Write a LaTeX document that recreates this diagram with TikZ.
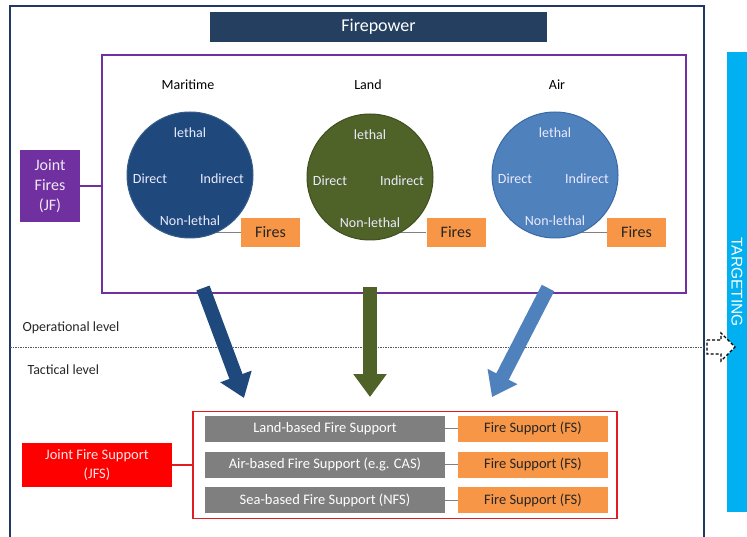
\documentclass[tikz,border=0pt]{standalone}
\usepackage{fontspec}
\setmainfont{Carlito}
\newfontfamily\targfont{Liberation Sans}
\usetikzlibrary{arrows.meta,backgrounds,calc}
\definecolor{fpnavy}{HTML}{243F60}
\definecolor{outerblue}{HTML}{1F3864}
\definecolor{jfpurple}{HTML}{7030A0}
\definecolor{marblue}{HTML}{1F497D}
\definecolor{marline}{HTML}{385D8A}
\definecolor{landgreen}{HTML}{4F6228}
\definecolor{landline}{HTML}{3F4F20}
\definecolor{airblue}{HTML}{4F81BD}
\definecolor{airline}{HTML}{3A6AA5}
\definecolor{firesorange}{HTML}{F79646}
\definecolor{targblue}{HTML}{00B0F0}
\definecolor{boxgray}{HTML}{7F7F7F}
\definecolor{jfsred}{HTML}{FF0000}
\definecolor{redline}{HTML}{E31B23}
\definecolor{linkgray}{HTML}{808080}
\tikzset{
  fsz/.style={font=\fontsize{#1}{#1}\selectfont},
  disc/.style={circle, minimum size=126pt, inner sep=0pt, line width=1pt},
  inlabel/.style={text=white!92!blue, fsz=14},
  domlabel/.style={fsz=14, text=black},
  firesbox/.style={fill=firesorange, minimum width=59pt, minimum height=29pt, inner sep=0pt, fsz=16, text=black!85},
  link/.style={draw=linkgray, line width=1pt},
  blockarrow/.style={line width=14pt, -{Triangle[length=23pt,width=32pt]}},
  graybox/.style={fill=boxgray, minimum width=240pt, minimum height=26pt, inner sep=0pt, text=white, fsz=14.5},
  fsbox/.style={fill=firesorange, minimum width=150pt, minimum height=26pt, inner sep=0pt, text=black!85, fsz=14.5},
  levellabel/.style={anchor=west, fsz=14, text=black!85},
}
\begin{document}
\begin{tikzpicture}[x=1pt,y=-1pt]
\useasboundingbox (0,0) rectangle (747,537);
% outer frame
\draw[outerblue, line width=1.5pt] (10,537) -- (10,6) -- (704,6) -- (704,537);
% firepower bar
\node[fill=fpnavy, minimum width=337pt, minimum height=30pt, inner sep=0pt, text=white, fsz=18] (fp) at (378.5,27) {Firepower};
% joint fires frame
\node[draw=jfpurple, line width=1.5pt, minimum width=584pt, minimum height=238pt, inner sep=0pt] (jfbox) at (394,174) {};
\node[fill=jfpurple, minimum width=60pt, minimum height=72pt, inner sep=0pt, text=white!90!jfpurple, align=center, font=\fontsize{16}{20}\selectfont] (jf) at (50,186) {Joint\\Fires\\(JF)};
\draw[jfpurple, line width=1.5pt] (jf.east) -- (jf.east -| jfbox.west);
% domain labels
\node[domlabel] (lmar) at (188,85) {Maritime};
\node[domlabel] (lland) at (368,85) {Land};
\node[domlabel] (lair) at (557,85) {Air};
% circles
\node[disc, fill=marblue, draw=marline] (cm) at (190,175) {};
\node[disc, fill=landgreen, draw=landline] (cl) at (370,177) {};
\node[disc, fill=airblue, draw=airline] (ca) at (555,175) {};
\foreach \c in {cm,cl,ca}{
  \node[inlabel] (\c-le) at ($(\c)+(0,-42)$) {lethal};
  \node[inlabel] (\c-di) at ($(\c)+(-40,4)$) {Direct};
  \node[inlabel] (\c-in) at ($(\c)+(32,4)$) {Indirect};
  \node[inlabel] (\c-nl) at ($(\c)+(0,46)$) {Non-lethal};
}
% fires boxes
\node[firesbox] (fm) at (270.5,232.5) {Fires};
\node[firesbox] (fl) at (456,232.5) {Fires};
\node[firesbox] (fa) at (636.5,232.5) {Fires};
\begin{scope}[on background layer]
  \draw[link] (fm.west) -- (fm.west -| cm.center);
  \draw[link] (fl.west) -- (fl.west -| cl.center);
  \draw[link] (fa.west) -- (fa.west -| ca.center);
\end{scope}
% levels
\node[levellabel] (op) at (19,328) {Operational level};
\node[levellabel] (tac) at (24,370) {Tactical level};
\draw[black!65, line width=1pt, dash pattern=on 1.5pt off 1pt] (10,347) -- (704,347);
% targeting bar
\node[fill=targblue, rotate=-90, minimum width=460pt, minimum height=21pt, inner sep=0pt, text=white, font=\targfont\fontsize{15.5}{16}\selectfont] (tg) at (737,282) {TARGETING};
\draw[black, dash pattern=on 3pt off 2pt, fill=white, line width=1.2pt]
  (707,340) -- (721,340) -- (721,333) -- (735,347) -- (721,361) -- (721,354) -- (707,354) -- cycle;
% block arrows
\coordinate (ma1) at (203,288);
\coordinate (ma2) at (244,398);
\coordinate (la1) at (370,287);
\coordinate (la2) at (370,397);
\coordinate (aa1) at (548,288);
\coordinate (aa2) at (492,397);
\draw[blockarrow, marblue] (ma1) -- (ma2);
\draw[blockarrow, landgreen] (la1) -- (la2);
\draw[blockarrow, airblue] (aa1) -- (aa2);
% joint fire support
\node[draw=redline, line width=1.5pt, minimum width=424pt, minimum height=107pt, inner sep=0pt] (jfsbox) at (405,465) {};
\node[fill=jfsred, minimum width=150pt, minimum height=44pt, inner sep=0pt, text=white!90!red, align=center, font=\fontsize{14.5}{19}\selectfont] (jfs) at (97,465) {Joint Fire Support\\(JFS)};
\draw[redline, line width=1.2pt] (jfs.east) -- (jfs.east -| jfsbox.west);
\node[graybox] (g1) at (325,428.5) {Land-based Fire Support};
\node[graybox] (g2) at (325,464.5) {Air-based Fire Support (e.g. CAS)};
\node[graybox] (g3) at (325,500) {Sea-based Fire Support (NFS)};
\node[fsbox] (s1) at (533,428.5) {Fire Support (FS)};
\node[fsbox] (s2) at (533,464.5) {Fire Support (FS)};
\node[fsbox] (s3) at (533,500) {Fire Support (FS)};
\draw[link] (g1) -- (s1);
\draw[link] (g2) -- (s2);
\draw[link] (g3) -- (s3);
\end{tikzpicture}
\end{document}
